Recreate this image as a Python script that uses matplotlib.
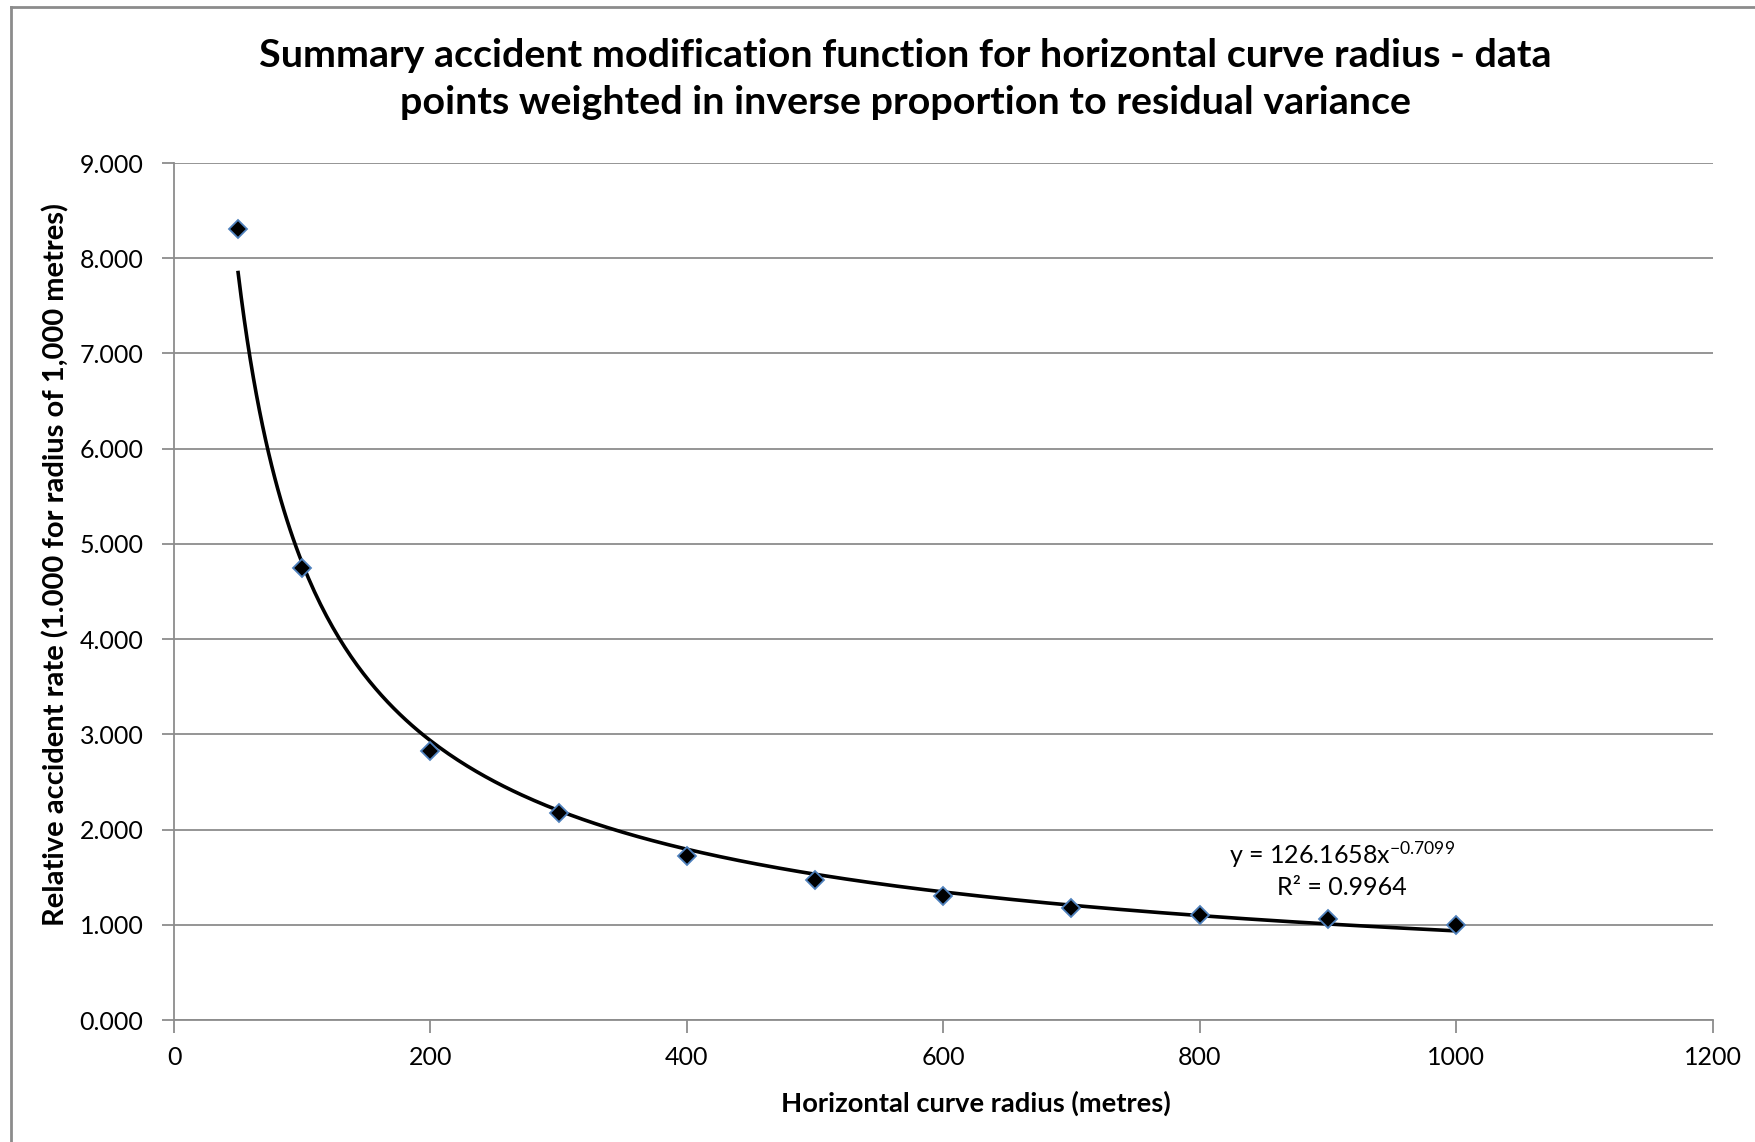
import numpy as np
import matplotlib
matplotlib.use("Agg")
import matplotlib.pyplot as plt
from matplotlib.lines import Line2D

plt.rcParams['font.family'] = ['Lato', 'DejaVu Sans']
plt.rcParams['mathtext.fontset'] = 'custom'
plt.rcParams['mathtext.rm'] = 'Lato'
plt.rcParams['mathtext.it'] = 'Lato:italic'
plt.rcParams['mathtext.bf'] = 'Lato:bold'

# Data
radius = [50, 100, 200, 300, 400, 500, 600, 700, 800, 900, 1000]
rel_rate = [8.31, 4.75, 2.82, 2.17, 1.72, 1.47, 1.30, 1.175, 1.105, 1.057, 1.00]
fit_a = 126.1658
fit_b = -0.7099
r2 = 0.9964
xticks = [0, 200, 400, 600, 800, 1000, 1200]
yticks = [0, 1, 2, 3, 4, 5, 6, 7, 8, 9]

W, H = 1755, 1142
fig = plt.figure(figsize=(W / 100, H / 100), dpi=100)
ax = fig.add_axes([174 / W, 1 - 1020 / H, (1712.5 - 174) / W, (1020 - 163) / H])

grid_c = '#8c8c8c'
ax.set_xlim(0, 1200)
ax.set_ylim(0, 9)
ax.set_xticks(xticks)
ax.set_yticks(yticks)
ax.set_yticklabels([f"{v:.3f}" for v in yticks])
ax.yaxis.grid(True, color=grid_c, linewidth=1.3)
ax.set_axisbelow(True)
for s in ['top', 'right']:
    ax.spines[s].set_visible(False)
for s in ['left', 'bottom']:
    ax.spines[s].set_color(grid_c)
    ax.spines[s].set_linewidth(1.3)
ax.tick_params(axis='both', colors=grid_c, length=9, width=1.3, labelsize=18,
               labelcolor='black', direction='out')
ax.tick_params(axis='x', pad=10)
ax.tick_params(axis='y', pad=13)

# Trendline
xf = np.linspace(radius[0], radius[-1], 400)
ax.plot(xf, fit_a * xf ** fit_b, color='black', linewidth=2.6, zorder=3)

# Points
ax.plot(radius, rel_rate, linestyle='none', marker='D', markersize=9,
        markerfacecolor='black', markeredgecolor='#4f81bd', markeredgewidth=1.3,
        zorder=4)

ax.text(911, 1.58, f"y = {fit_a:.4f}x$^{{{fit_b:.4f}}}$\nR² = {r2:.4f}",
        fontsize=18, ha='center', va='center', linespacing=1.3)

ax.set_xlabel("Horizontal curve radius (metres)", fontsize=19.7, fontweight='bold')
ax.xaxis.set_label_coords(0.521, -0.083)
ax.set_ylabel("Relative accident rate (1.000 for radius of 1,000 metres)",
              fontsize=21, fontweight='bold')
ax.yaxis.set_label_coords(-0.068, 0.532)

fig.text(905 / W, 1 - 79 / H,
         "Summary accident modification function for horizontal curve radius - data\n"
         "points weighted in inverse proportion to residual variance",
         ha='center', va='center', fontsize=28.4, fontweight='bold', linespacing=1.4)

# outer chart border (left and top visible)
fig.add_artist(Line2D([11 / W, 11 / W], [0, 1 - 7 / H], color='#8c8c8c',
                      linewidth=2, transform=fig.transFigure))
fig.add_artist(Line2D([11 / W, 1], [1 - 7 / H, 1 - 7 / H], color='#8c8c8c',
                      linewidth=2, transform=fig.transFigure))

fig.savefig("out.png", dpi=100)
